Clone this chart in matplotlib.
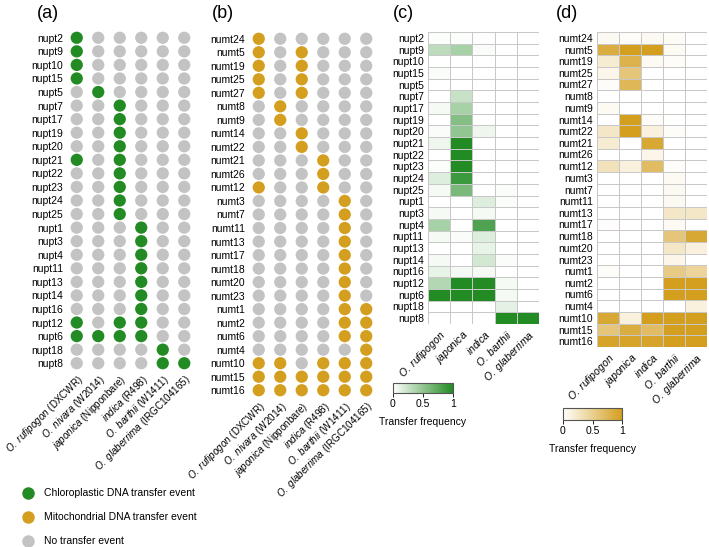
import matplotlib.pyplot as plt
import numpy as np
from matplotlib.colors import LinearSegmentedColormap
from matplotlib.lines import Line2D

plt.rcParams['font.family'] = ['Liberation Sans', 'DejaVu Sans']
plt.rcParams['mathtext.fontset'] = 'custom'
plt.rcParams['mathtext.it'] = 'Liberation Sans:italic'
plt.rcParams['mathtext.rm'] = 'Liberation Sans'

GREEN = '#238b23'
GOLD = '#d49f1f'
GREY = '#c3c3c3'

# genomes in the dot panels
genome_labels = [r'$\it{O.\ rufipogon}$ (DXCWR)', r'$\it{O.\ nivara}$ (W2014)',
                 r'$\it{japonica}$ (Nipponbare)', r'$\it{indica}$ (R498)',
                 r'$\it{O.\ barthii}$ (W1411)', r'$\it{O.\ glaberrima}$ (IRGC104165)']
# species in the heatmaps
species_labels = [r'$\it{O.\ rufipogon}$', r'$\it{japonica}$', r'$\it{indica}$',
                  r'$\it{O.\ barthii}$', r'$\it{O.\ glaberrima}$']

nupt_rows = ['nupt2', 'nupt9', 'nupt10', 'nupt15', 'nupt5', 'nupt7', 'nupt17', 'nupt19',
             'nupt20', 'nupt21', 'nupt22', 'nupt23', 'nupt24', 'nupt25', 'nupt1', 'nupt3',
             'nupt4', 'nupt11', 'nupt13', 'nupt14', 'nupt16', 'nupt12', 'nupt6', 'nupt18', 'nupt8']
nupt_events = [[0], [0], [0], [0], [1], [2], [2], [2], [2], [0, 2], [2], [2], [2], [2],
               [3], [3], [3], [3], [3], [3], [3], [0, 2, 3], [0, 1, 2, 3], [4], [4, 5]]

numt_rows = ['numt24', 'numt5', 'numt19', 'numt25', 'numt27', 'numt8', 'numt9', 'numt14',
             'numt22', 'numt21', 'numt26', 'numt12', 'numt3', 'numt7', 'numt11', 'numt13',
             'numt17', 'numt18', 'numt20', 'numt23', 'numt1', 'numt2', 'numt6', 'numt4',
             'numt10', 'numt15', 'numt16']
numt_events = [[0], [0, 2], [0, 2], [0, 2], [0, 2], [1], [1], [2], [2], [3], [3], [0, 3],
               [4], [4], [4], [4], [4], [4], [4], [4], [4, 5], [4, 5], [4, 5], [5],
               [0, 1, 3, 4, 5], [0, 1, 2, 3, 4, 5], [0, 1, 2, 3, 4, 5]]

nupt_freq = [
    [0.02, 0.02, 0.01, 0, 0],
    [0.3, 0.4, 0.03, 0, 0],
    [0, 0, 0, 0, 0],
    [0.03, 0, 0, 0, 0],
    [0, 0, 0, 0, 0],
    [0, 0.25, 0, 0, 0],
    [0.05, 0.4, 0, 0, 0],
    [0, 0.55, 0, 0, 0],
    [0.03, 0.5, 0.08, 0, 0],
    [0.08, 1, 0, 0, 0],
    [0, 1, 0, 0, 0],
    [0.02, 1, 0, 0, 0],
    [0.15, 0.88, 0, 0, 0],
    [0.05, 0.6, 0, 0.03, 0],
    [0, 0, 0.15, 0.03, 0],
    [0.05, 0, 0.05, 0, 0],
    [0.4, 0, 0.8, 0, 0],
    [0.05, 0.03, 0.15, 0, 0],
    [0, 0, 0.1, 0, 0],
    [0.05, 0, 0.2, 0.03, 0],
    [0.1, 0.05, 0.05, 0, 0],
    [0.35, 1, 1, 0.05, 0],
    [1, 1, 1, 0.05, 0],
    [0, 0, 0, 0.12, 0],
    [0, 0, 0, 1, 1],
]

numt_freq = [
    [0.06, 0.03, 0.06, 0.04, 0],
    [0.85, 1, 1, 0.05, 0],
    [0.2, 0.8, 0.05, 0.03, 0],
    [0.1, 0.6, 0, 0, 0],
    [0.03, 0.75, 0, 0, 0],
    [0, 0, 0, 0, 0],
    [0.05, 0, 0, 0, 0],
    [0, 1, 0.03, 0, 0],
    [0.25, 1, 0.15, 0.03, 0],
    [0.2, 0, 0.9, 0, 0],
    [0, 0, 0.1, 0, 0],
    [0.3, 0.15, 0.7, 0.03, 0],
    [0, 0, 0, 0.05, 0],
    [0, 0, 0, 0.06, 0],
    [0, 0, 0, 0.06, 0],
    [0, 0, 0, 0.25, 0.25],
    [0.02, 0, 0, 0.05, 0],
    [0, 0, 0, 0.6, 0.9],
    [0, 0, 0, 0.25, 0.15],
    [0, 0, 0, 0.1, 0],
    [0.03, 0, 0, 0.55, 0.45],
    [0, 0, 0, 1, 1],
    [0, 0, 0, 1, 1],
    [0, 0, 0, 0, 0.15],
    [0.9, 0.15, 1, 1, 1],
    [0.6, 0.85, 0.7, 1, 1],
    [0.95, 0.95, 0.95, 1, 1],
]

W, H = 709, 547
fig = plt.figure(figsize=(W / 100, H / 100), dpi=100)


def rect(x0, y0, x1, y1):
    return [x0 / W, 1 - y1 / H, (x1 - x0) / W, (y1 - y0) / H]


def dot_panel(box, rows, events, color):
    ax = fig.add_axes(rect(*box))
    for i, ev in enumerate(events):
        cols = list(range(len(genome_labels)))
        ax.scatter(cols, [i] * len(cols), s=78, linewidths=0,
                   c=[color if j in ev else GREY for j in cols])
    ax.set_xlim(-0.5, len(genome_labels) - 0.5)
    ax.set_ylim(len(rows) - 0.5, -0.5)
    ax.set_yticks(range(len(rows)))
    ax.set_yticklabels(rows, fontsize=7.5)
    ax.set_xticks(range(len(genome_labels)))
    ax.set_xticklabels(genome_labels, fontsize=7.1, rotation=45, ha='right',
                       va='top', rotation_mode='anchor')
    ax.tick_params(length=0, pad=2)
    for s in ax.spines.values():
        s.set_visible(False)
    return ax


def heat_panel(box, rows, vals, cmap):
    ax = fig.add_axes(rect(*box))
    m = ax.pcolormesh(np.array(vals), cmap=cmap, vmin=0, vmax=1,
                      edgecolors='#c8c8c8', linewidth=0.6)
    ax.set_ylim(len(rows), 0)
    ax.set_yticks(np.arange(len(rows)) + 0.5)
    ax.set_yticklabels(rows, fontsize=7.5)
    ax.set_xticks(np.arange(len(species_labels)) + 0.5)
    ax.set_xticklabels(species_labels, fontsize=7.5, rotation=45, ha='right',
                       va='top', rotation_mode='anchor')
    ax.tick_params(length=0, pad=3)
    for s in ax.spines.values():
        s.set_visible(False)
    return m


def add_cbar(box, m):
    cax = fig.add_axes(rect(*box))
    cb = fig.colorbar(m, cax=cax, orientation='horizontal', ticks=[0, 0.5, 1])
    cb.ax.set_xticklabels(['0', '0.5', '1'], fontsize=7.5)
    cb.ax.tick_params(length=3, width=0.6, pad=1)
    cb.outline.set_linewidth(0.8)
    cb.outline.set_edgecolor('#555555')
    cb.set_label('Transfer frequency', fontsize=7.5, labelpad=6)


greens = LinearSegmentedColormap.from_list('g', ['#ffffff', GREEN])
golds = LinearSegmentedColormap.from_list('o', ['#ffffff', GOLD])

dot_panel((66, 31, 195, 370), nupt_rows, nupt_events, GREEN)
dot_panel((248, 32, 377, 397), numt_rows, numt_events, GOLD)
mc = heat_panel((428, 32, 539, 324), nupt_rows, nupt_freq, greens)
md = heat_panel((597, 32, 707, 347), numt_rows, numt_freq, golds)
add_cbar((393, 383, 453, 393), mc)
add_cbar((563, 408, 622, 420), md)

for lab, x in zip(['(a)', '(b)', '(c)', '(d)'], [48, 223, 403, 567]):
    fig.text(x / W, 1 - 14 / H, lab, fontsize=13, ha='center', va='center')

handles = [Line2D([], [], marker='o', ls='', markersize=9, markeredgewidth=0, color=c)
           for c in [GREEN, GOLD, GREY]]
fig.legend(handles, ['Chloroplastic DNA transfer event', 'Mitochondrial DNA transfer event',
                     'No transfer event'],
           loc='upper left', bbox_to_anchor=(13 / W, 1 - 484 / H), frameon=False,
           fontsize=7.5, labelspacing=1.35, handletextpad=0.6, borderaxespad=0)

fig.savefig('out.png', dpi=100)
